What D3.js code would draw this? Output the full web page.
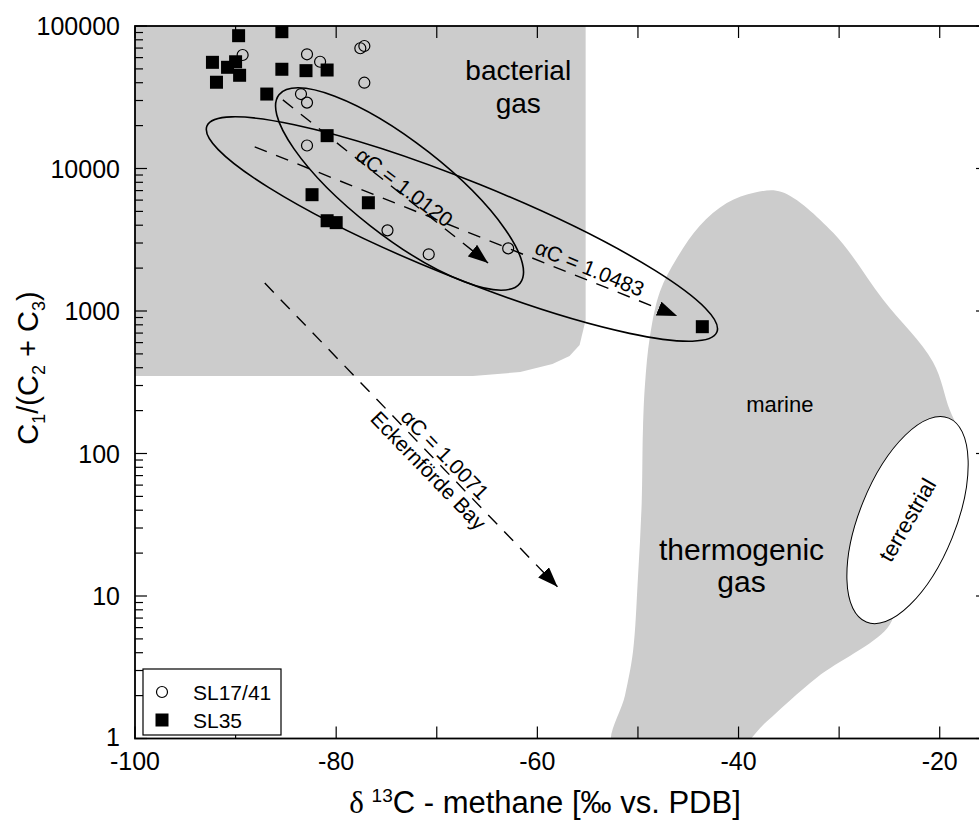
<!DOCTYPE html>
<html><head><meta charset="utf-8">
<script src="https://cdn.jsdelivr.net/npm/d3@7"></script>
<style>
body{margin:0;background:#fff}
svg{display:block}
text{font-family:"Liberation Sans",Arial,Helvetica,sans-serif;fill:#000}
</style>
</head><body>
<svg id="chart" width="979" height="828"></svg>
<script>
// ---------- data ----------
const xTickValues = [-100, -80, -60, -40, -20];
const xMinorTicks = [-90, -70, -50, -30];
const yTickValues = [1, 10, 100, 1000, 10000, 100000];
const yTickLabels = ["1", "10", "100", "1000", "10000", "100000"];

// SL17/41 (open circles)
const sl17Delta = [-89.3, -82.9, -81.6, -77.6, -77.2, -77.2, -83.5, -82.9, -82.9, -74.9, -70.8, -62.9];
const sl17Ratio = [62600, 63300, 56100, 69800, 72400, 40000, 33300, 29000, 14500, 3680, 2500, 2750];
// SL35 (filled squares)
const sl35Delta = [-89.7, -85.4, -92.3, -90.8, -90.0, -89.6, -91.9, -85.4, -83.0, -80.9, -86.9, -80.9, -82.4, -76.8, -80.9, -80.0, -43.6];
const sl35Ratio = [85500, 91200, 55600, 51300, 56100, 45100, 40300, 49700, 48600, 49100, 33300, 17000, 6550, 5750, 4300, 4170, 776];

// bacterial gas field (outline)
const bacterialDelta = [-101, -55.2, -55.2, -55.8, -56.8, -58.5, -61.7, -66.4, -101];
const bacterialRatio = [150000, 150000, 865, 577, 483, 425, 373, 350, 350];

// thermogenic gas field (outline)
const thermoDelta = [-52.48, -51.29, -50.49, -50.0, -49.63, -49.5, -49.3, -48.81, -47.81, -46.15, -43.83, -41.17, -38.36, -35.71, -30.61, -25.64, -20.67, -18.98, -17.69, -17.19, -19.48, -23.95, -25.24, -32.2, -37.2, -40.55];
const thermoRatio = [0.865, 2.0, 4.08, 13.5, 44.6, 150, 305, 662, 1370, 2335, 3980, 5725, 6790, 6850, 3555, 1205, 439, 200, 125, 77.2, 24.9, 9.45, 5.91, 2.68, 1.316, 0.811];

// fractionation trend arrows
const arrowLabels = ["\u03B1C = 1.0120", "\u03B1C = 1.0483", "\u03B1C = 1.0071"];
const arrowStartDelta = [-85.3, -88.1, -87.1];
const arrowStartRatio = [30300, 14200, 1570];
const arrowEndDelta = [-64.9, -46.1, -58.0];
const arrowEndRatio = [2170, 922, 11.6];

// confidence ellipses (centre in data units)
const ellipseDelta = [-73.7, -67.5];
const ellipseRatio = [7180, 3760];

// terrestrial field centre
const terrDelta = -23.2, terrRatio = 34.1;

// ---------- chart ----------
const svg = d3.select("#chart");
const L = 135, T = 26, B = 738.5, R = 988;
const x = d3.scaleLinear().domain([-100, -15.2]).range([L, R]);
const y = d3.scaleLog().domain([1, 100000]).range([B, T]);

const defs = svg.append("defs");
defs.append("clipPath").attr("id", "plotclip").append("rect")
  .attr("x", L).attr("y", T).attr("width", R - L).attr("height", B - T);
defs.append("marker").attr("id", "ah").attr("viewBox", "0 0 20 15")
  .attr("refX", 20).attr("refY", 7.5).attr("markerWidth", 20).attr("markerHeight", 15)
  .attr("markerUnits", "userSpaceOnUse").attr("orient", "auto")
  .append("path").attr("d", "M0,0 L20,7.5 L0,15 Z").attr("fill", "#000");

const plot = svg.append("g").attr("clip-path", "url(#plotclip)");
const gray = "#cccccc";

plot.append("path")
  .attr("d", d3.line().x(d => x(d[0])).y(d => y(d[1]))(bacterialDelta.map((d, i) => [d, bacterialRatio[i]])))
  .attr("fill", gray);
plot.append("path")
  .attr("d", d3.line().x(d => x(d[0])).y(d => y(d[1])).curve(d3.curveCatmullRomClosed.alpha(0.5))(thermoDelta.map((d, i) => [d, thermoRatio[i]])))
  .attr("fill", gray);

// terrestrial ellipse
plot.append("ellipse")
  .attr("transform", `translate(${x(terrDelta)},${y(terrRatio)}) rotate(22)`)
  .attr("rx", 48).attr("ry", 110)
  .attr("fill", "#fff").attr("stroke", "#000").attr("stroke-width", 1);

// data ellipses
const ellipseShape = [{a: 153, b: 47, rot: 38}, {a: 275, b: 48, rot: 22}];
ellipseDelta.forEach((d, i) => {
  plot.append("ellipse")
    .attr("transform", `translate(${x(d)},${y(ellipseRatio[i])}) rotate(${ellipseShape[i].rot})`)
    .attr("rx", ellipseShape[i].a).attr("ry", ellipseShape[i].b)
    .attr("fill", "none").attr("stroke", "#000").attr("stroke-width", 1.6);
});

// arrows
arrowLabels.forEach((lab, i) => {
  plot.append("line")
    .attr("x1", x(arrowStartDelta[i])).attr("y1", y(arrowStartRatio[i]))
    .attr("x2", x(arrowEndDelta[i])).attr("y2", y(arrowEndRatio[i]))
    .attr("stroke", "#000").attr("stroke-width", 1.4)
    .attr("stroke-dasharray", "13,10")
    .attr("marker-end", "url(#ah)");
});

// points
plot.selectAll("circle.sl17").data(sl17Delta).join("circle")
  .attr("cx", d => x(d)).attr("cy", (d, i) => y(sl17Ratio[i])).attr("r", 5.5)
  .attr("fill", "none").attr("stroke", "#000").attr("stroke-width", 1.2);
plot.selectAll("rect.sl35").data(sl35Delta).join("rect")
  .attr("x", d => x(d) - 6.5).attr("y", (d, i) => y(sl35Ratio[i]) - 6.5)
  .attr("width", 13).attr("height", 13).attr("fill", "#000");

// field labels
const lab = svg.append("g");
lab.append("text").attr("x", x(-61.9)).attr("y", y(41800)).attr("text-anchor", "middle").attr("font-size", 28).text("bacterial");
lab.append("text").attr("x", x(-61.9)).attr("y", y(24500)).attr("text-anchor", "middle").attr("font-size", 28).text("gas");
lab.append("text").attr("x", x(-39.7)).attr("y", y(17.9)).attr("text-anchor", "middle").attr("font-size", 30).text("thermogenic");
lab.append("text").attr("x", x(-39.7)).attr("y", y(10.67)).attr("text-anchor", "middle").attr("font-size", 30).text("gas");
lab.append("text").attr("x", x(-35.9)).attr("y", y(219)).attr("text-anchor", "middle").attr("dominant-baseline", "central").attr("font-size", 22).text("marine");
lab.append("text").attr("transform", `translate(${x(terrDelta)},${y(terrRatio)}) rotate(-60)`).attr("text-anchor", "middle").attr("dominant-baseline", "central").attr("font-size", 22).text("terrestrial");

// arrow labels
const arrowLabelPos = [[-73.2, 7400, 37.5], [-54.8, 2000, 22.4]];
arrowLabelPos.forEach((p, i) => {
  lab.append("text").attr("transform", `translate(${x(p[0])},${y(p[1])}) rotate(${p[2]})`)
    .attr("text-anchor", "middle").attr("dominant-baseline", "central").attr("font-size", 21).text(arrowLabels[i]);
});
const ek = lab.append("text").attr("transform", `translate(${x(-70.0)},${y(86.5)}) rotate(46)`)
  .attr("text-anchor", "middle").attr("font-size", 21);
ek.append("tspan").attr("x", 0).attr("dy", -4).text(arrowLabels[2]);
ek.append("tspan").attr("x", 0).attr("dy", 23).text("Eckernförde Bay");

// ---------- axes ----------
const ax = svg.append("g").attr("stroke", "#000").attr("stroke-width", 1.8).attr("fill", "none");
ax.append("rect").attr("x", L).attr("y", T).attr("width", R - L).attr("height", B - T);

xTickValues.concat(xMinorTicks).forEach(v => {
  ax.append("line").attr("x1", x(v)).attr("x2", x(v)).attr("y1", B).attr("y2", B - 12).attr("stroke-width", 1.2);
  ax.append("line").attr("x1", x(v)).attr("x2", x(v)).attr("y1", T).attr("y2", T + 12).attr("stroke-width", 1.2);
});
yTickValues.forEach(v => {
  ax.append("line").attr("x1", L).attr("x2", L + 12).attr("y1", y(v)).attr("y2", y(v)).attr("stroke-width", 1.2);
  ax.append("line").attr("x1", R).attr("x2", R - 12).attr("y1", y(v)).attr("y2", y(v)).attr("stroke-width", 1.2);
});
y.ticks().filter(v => !yTickValues.includes(v)).forEach(v => {
  ax.append("line").attr("x1", L).attr("x2", L + 8).attr("y1", y(v)).attr("y2", y(v)).attr("stroke-width", 1.2);
  ax.append("line").attr("x1", R).attr("x2", R - 8).attr("y1", y(v)).attr("y2", y(v)).attr("stroke-width", 1.2);
});

const tl = svg.append("g").attr("font-size", 25);
xTickValues.forEach(v => {
  tl.append("text").attr("x", x(v)).attr("y", 770).attr("text-anchor", "middle").text(v);
});
yTickValues.forEach((v, i) => {
  tl.append("text").attr("x", 120).attr("y", y(v) - (v === 1 ? 2 : 0)).attr("text-anchor", "end").attr("dominant-baseline", "central").text(yTickLabels[i]);
});

// axis titles
const xt = svg.append("text").attr("x", 545).attr("y", 813).attr("text-anchor", "middle").attr("font-size", 31);
xt.append("tspan").attr("font-family", "'Liberation Serif','DejaVu Serif',serif").text("\u03B4 ");
xt.append("tspan").attr("font-size", 19).attr("dy", -11).text("13");
xt.append("tspan").attr("dy", 11).text("C - methane [\u2030 vs. PDB]");

const yt = svg.append("text").attr("transform", "translate(38,368) rotate(-90)").attr("text-anchor", "middle").attr("font-size", 29);
yt.append("tspan").text("C");
yt.append("tspan").attr("font-size", 18).attr("dy", 7).text("1");
yt.append("tspan").attr("dy", -7).text("/(C");
yt.append("tspan").attr("font-size", 18).attr("dy", 7).text("2");
yt.append("tspan").attr("dy", -7).text(" + C");
yt.append("tspan").attr("font-size", 18).attr("dy", 7).text("3");
yt.append("tspan").attr("dy", -7).text(")");

// legend
const lg = svg.append("g");
lg.append("rect").attr("x", 143).attr("y", 669).attr("width", 138).attr("height", 66)
  .attr("fill", "#fff").attr("stroke", "#000").attr("stroke-width", 1.2);
lg.append("circle").attr("cx", 162).attr("cy", 692).attr("r", 5.5).attr("fill", "none").attr("stroke", "#000").attr("stroke-width", 1.2);
lg.append("rect").attr("x", 155.5).attr("y", 713.5).attr("width", 13).attr("height", 13).attr("fill", "#000");
lg.append("text").attr("x", 193).attr("y", 692).attr("dominant-baseline", "central").attr("font-size", 21).text("SL17/41");
lg.append("text").attr("x", 193).attr("y", 720).attr("dominant-baseline", "central").attr("font-size", 21).text("SL35");
</script>
</body></html>
